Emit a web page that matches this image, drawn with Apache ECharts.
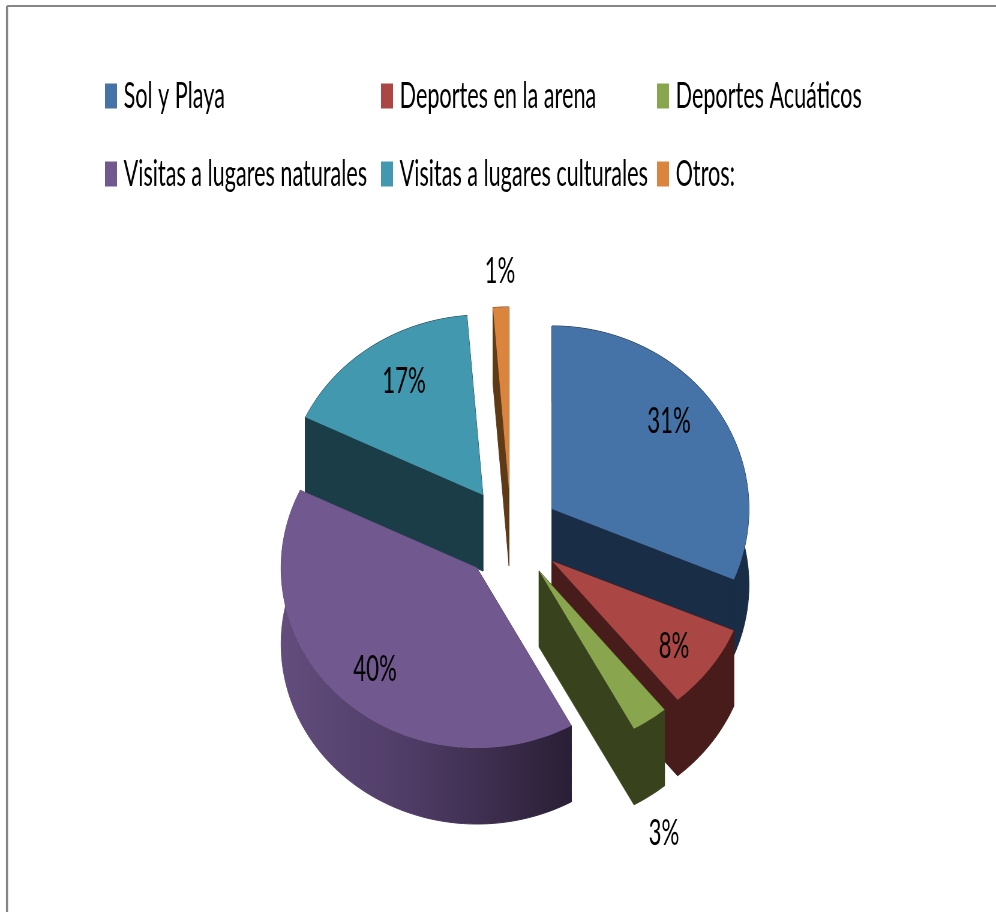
<!DOCTYPE html>
<html>
<head>
<meta charset="utf-8">
<script src="https://cdn.jsdelivr.net/npm/echarts@6/dist/echarts.min.js"></script>
<style>
html,body{margin:0;padding:0;background:#fff;width:996px;height:912px;overflow:hidden}
#chart{position:absolute;left:0;top:0;width:1660px;height:912px;transform:scaleX(0.6);transform-origin:0 0;filter:blur(0.5px)}
</style>
</head>
<body>
<div id="chart"></div>
<script>
// Data
const categories = ['Sol y Playa','Deportes en la arena','Deportes Acuáticos','Visitas a lugares naturales','Visitas a lugares culturales','Otros:'];
const shares = [31.3, 7.7, 3, 40.1, 16.6, 1.3];
const topColors = ['#4572A7','#AA4643','#89A54E','#71588F','#4198AF','#DB843D'];
const sideColors = ['#1A2D46','#481C1A','#38431D','#604B7A','#1B3D47','#5E3A17'];

// Layout (page pixels; the page is condensed horizontally by K like the reference)
const K = 0.6;
const radiusX = [197, 197, 197, 196, 197, 197];
const radiusY = [183, 180, 180, 180, 180, 183];
const DEPTH = 76;
const apexX = [552, 552, 539, 477, 483, 509];
const apexY = [509, 561, 571, 568, 495, 490];
const labelX = [669, 674, 664, 375, 404, 500];
const labelY = [421, 646, 833, 669, 381, 271];
const paintOrder = [4, 5, 0, 1, 2, 3];
const total = shares.reduce((a, b) => a + b, 0);

function arcPoints(i, from, to, dy) {
  const pts = [];
  const n = Math.max(2, Math.ceil(Math.abs(to - from) / 1.5));
  for (let s = 0; s <= n; s++) {
    const t = (from + (to - from) * s / n) * Math.PI / 180;
    pts.push([(apexX[i] + radiusX[i] * Math.sin(t)) / K, apexY[i] - radiusY[i] * Math.cos(t) + dy]);
  }
  return pts;
}
function poly(points, fill, seal) {
  return {type: 'polygon', shape: {points}, style: {fill, stroke: seal ? fill : null, lineWidth: 1}};
}
function sideFill(i) {
  if (i !== 3) return sideColors[i];
  return new echarts.graphic.LinearGradient(0, 0, 1, 0, [
    {offset: 0, color: '#624D7C'},
    {offset: 0.45, color: '#4F3C66'},
    {offset: 1, color: '#2A1F35'}
  ]);
}
function renderSlice(i) {
  return function (params, api) {
    const value = api.value(0);
    let before = 0;
    for (let j = 0; j < i; j++) before += shares[j];
    const a0 = before / total * 360;
    const a1 = (before + value) / total * 360;
    const ax = apexX[i] / K, ay = apexY[i];
    const top = arcPoints(i, a0, a1, 0);
    const bottom = arcPoints(i, a0, a1, DEPTH);
    const first = top[0], last = top[top.length - 1];
    const side = sideColors[i];
    const children = [
      poly([[ax, ay], first, [first[0], first[1] + DEPTH], [ax, ay + DEPTH]], side, true),
      poly([[ax, ay], last, [last[0], last[1] + DEPTH], [ax, ay + DEPTH]], side, true),
      poly(top.concat(bottom.slice().reverse()), sideFill(i), true),
      poly([[ax, ay]].concat(top), topColors[i], false),
      {type: 'text', style: {
        text: Math.round(value) + '%',
        x: labelX[i] / K, y: labelY[i],
        fill: '#000', font: '37px Lato', align: 'center', verticalAlign: 'middle'
      }}
    ];
    return {type: 'group', children};
  };
}

const chart = echarts.init(document.getElementById('chart'), null, {renderer: 'canvas'});
const legendColumn = (left, names) => ({
  left: left / K, top: 78, orient: 'vertical', itemGap: 42, padding: 0,
  itemWidth: 12 / K, itemHeight: 25, icon: 'rect', selectedMode: false,
  data: names,
  textStyle: {color: '#000', fontFamily: 'Lato', fontSize: 36, padding: [0, 0, 0, 6]}
});
chart.setOption({
  animation: false,
  backgroundColor: '#fff',
  legend: [
    legendColumn(105, [categories[0], categories[3]]),
    legendColumn(381, [categories[1], categories[4]]),
    legendColumn(657, [categories[2], categories[5]])
  ],
  graphic: [
    {type: 'line', silent: true, shape: {x1: 7 / K, y1: 6, x2: 996 / K, y2: 6}, style: {stroke: '#868686', lineWidth: 2}},
    {type: 'line', silent: true, shape: {x1: 7 / K, y1: 6, x2: 7 / K, y2: 912}, style: {stroke: '#868686', lineWidth: 3.5}}
  ],
  series: paintOrder.map((i, order) => ({
    type: 'custom',
    name: categories[i],
    coordinateSystem: 'none',
    z: 2 + order,
    silent: true,
    itemStyle: {color: topColors[i]},
    data: [[shares[i]]],
    renderItem: renderSlice(i)
  }))
});
</script>
</body>
</html>
